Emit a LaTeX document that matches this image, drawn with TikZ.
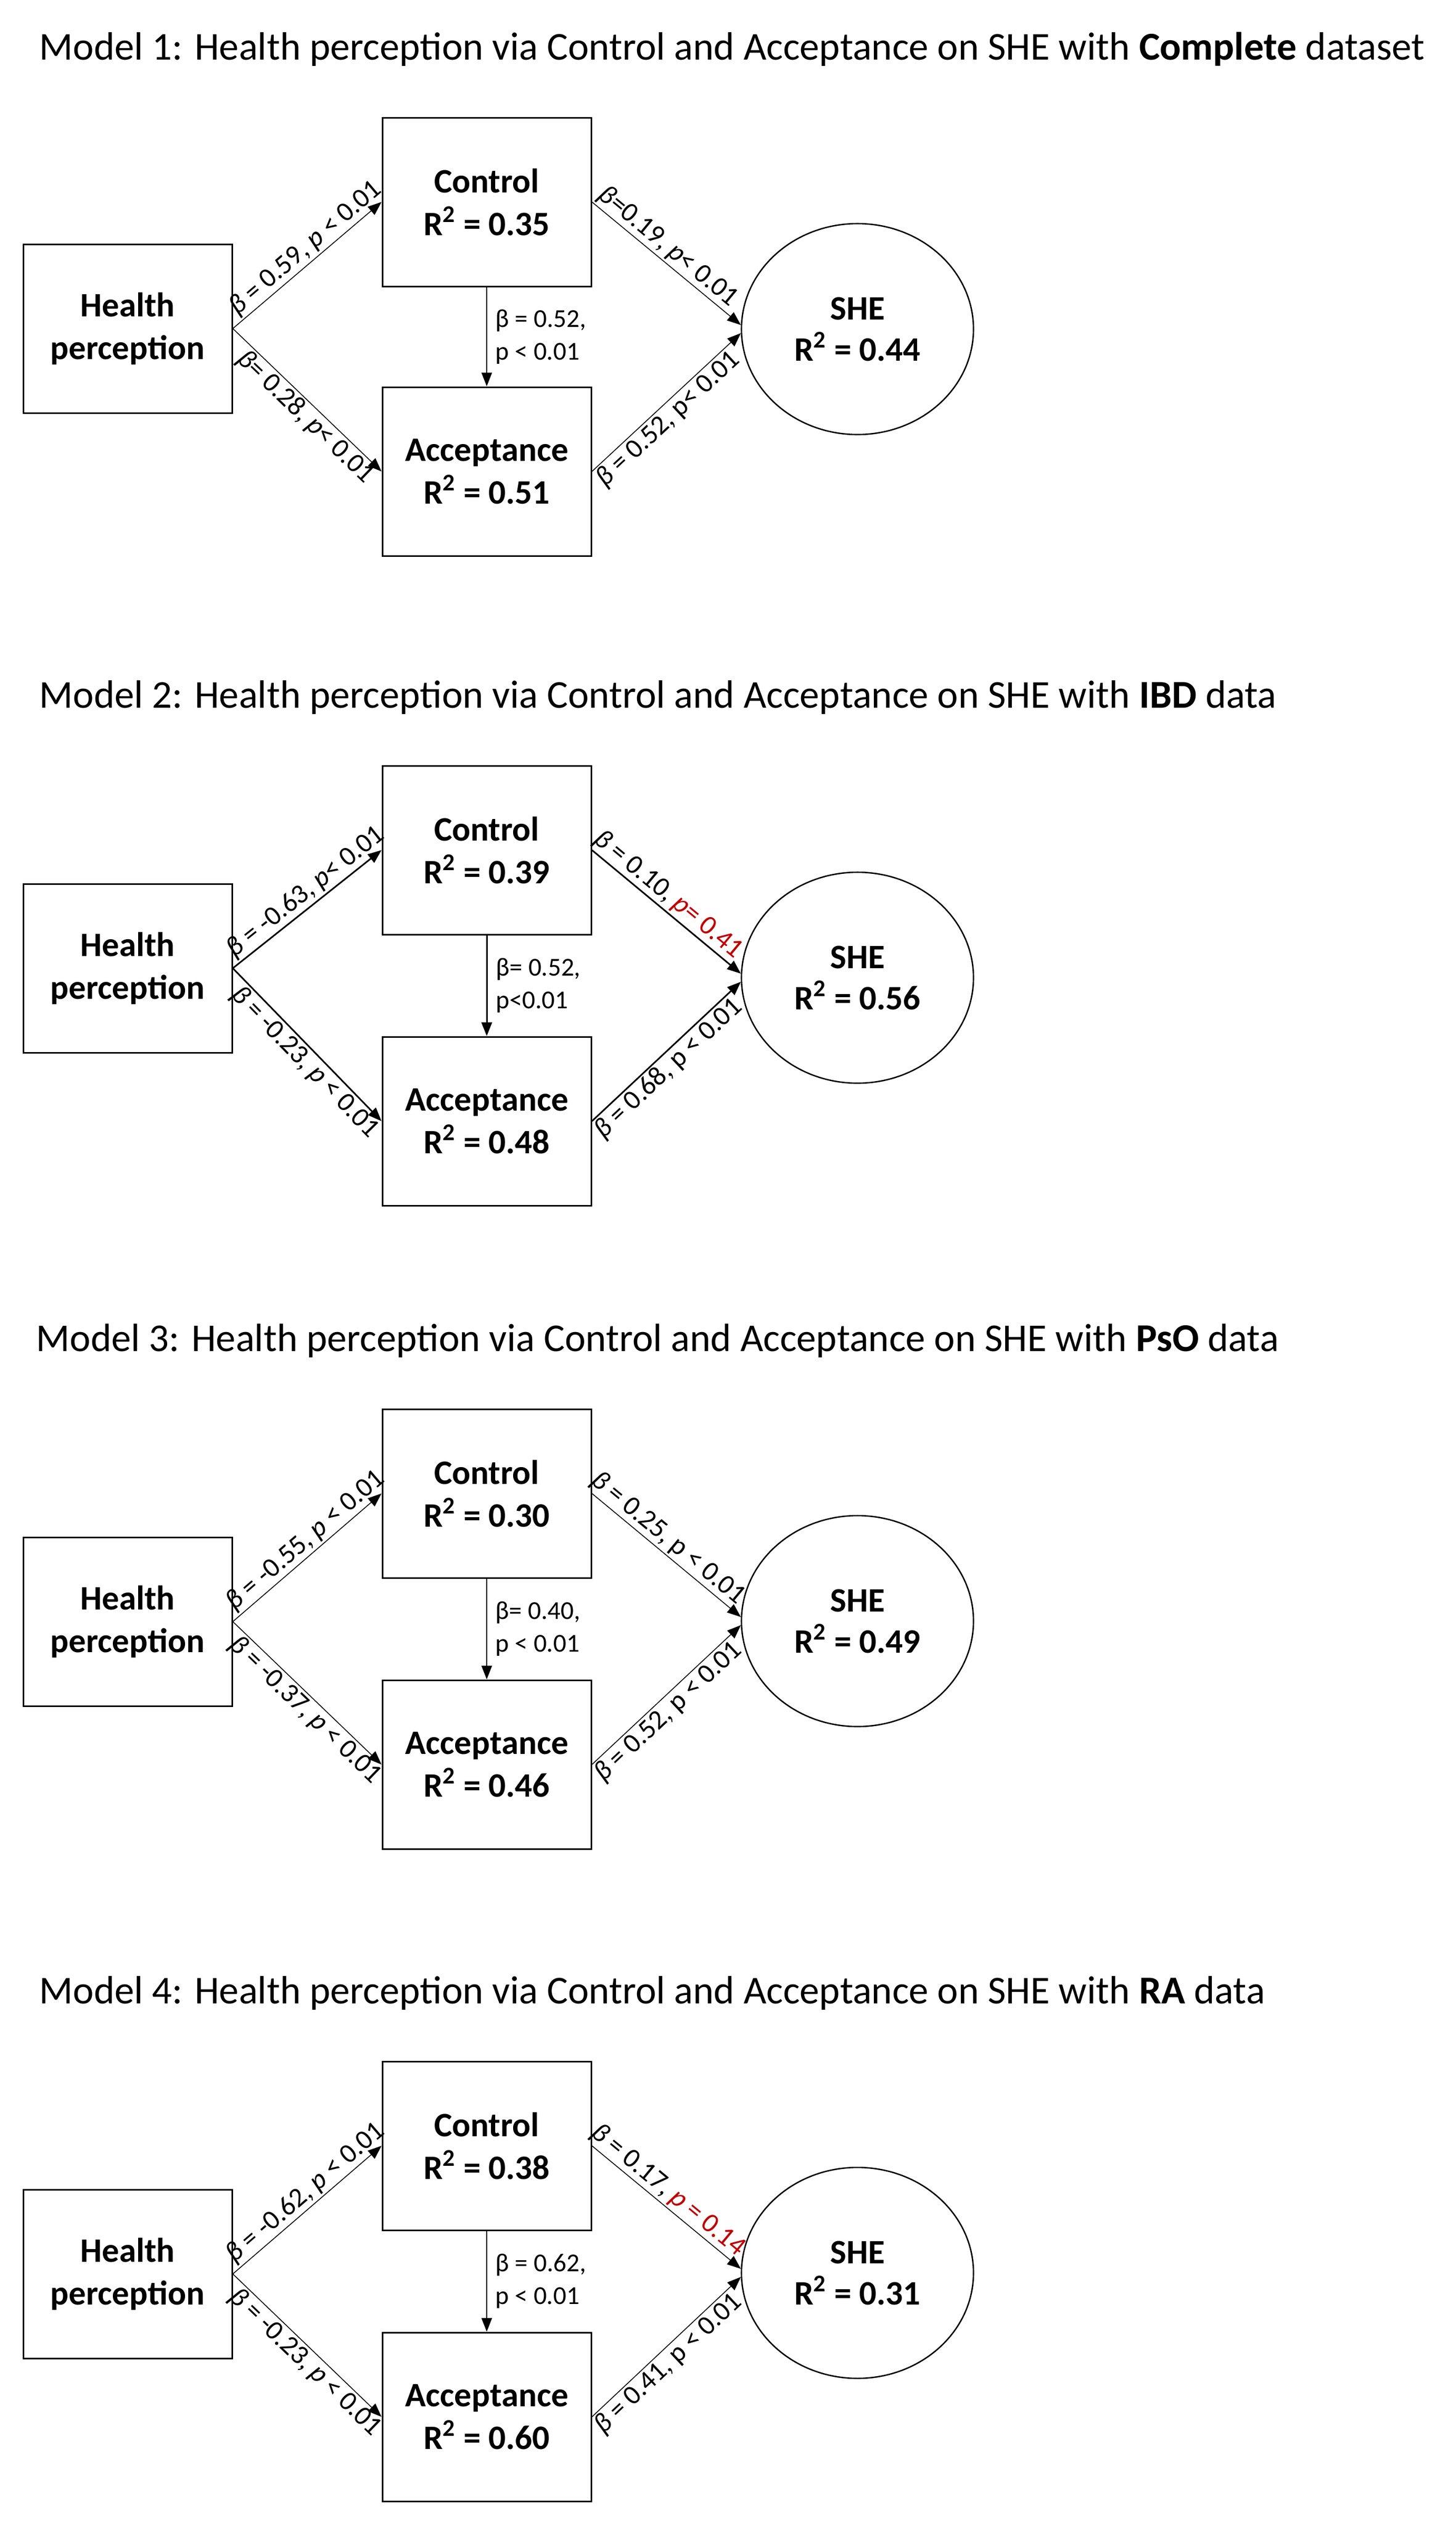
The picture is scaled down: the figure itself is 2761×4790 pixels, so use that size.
\documentclass[tikz,border=0pt]{standalone}
\usepackage{fontspec}
\setmainfont{Carlito}
\usepackage{xcolor}
\usetikzlibrary{arrows.meta,shapes.geometric}
\definecolor{pred}{RGB}{192,0,0}
\newcommand{\ib}{\textit{β}}
\newcommand{\ip}{\textit{p}}

\begin{document}
\begin{tikzpicture}[x=0.25pt,y=-0.25pt]
      \useasboundingbox (0,0) rectangle (2761,4790);
      \tikzset{V/.style = {shape=rectangle, draw, line width=0.75pt, minimum width=99pt, minimum height=80pt, align=center, font=\fontsize{16.25}{20.25}\selectfont\bfseries}}
      \tikzset{S/.style = {shape=ellipse, draw, line width=0.65pt, minimum width=110pt, minimum height=100pt, inner sep=0pt, align=center, font=\fontsize{16.25}{19.5}\selectfont\bfseries}}
      \tikzset{E/.style = {draw, line width=0.4pt, -{Triangle[length=6.5pt,width=5pt]}}}
      \tikzset{EB/.style = {E, line width=0.75pt}}
      \tikzset{L/.style = {font=\fontsize{12.25}{15.5}\selectfont, inner sep=1pt}}
      \tikzset{D/.style = {font=\fontsize{13}{15.5}\selectfont, inner sep=0.8pt, sloped}}
      \tikzset{T/.style = {anchor=base west, inner sep=0pt, font=\fontsize{18.7}{22}\selectfont}}
      % Model 1
      \node[T](t1) at (74,113) {Model 1: Health perception via Control and Acceptance on SHE with \textbf{Complete} dataset};
      \node[V](hp1) at (242,623) {Health\\perception};
      \node[V](ctl1) at (923,383) {Control\\R\textsuperscript{2} = 0.35};
      \node[V](acc1) at (923,894) {Acceptance\\R\textsuperscript{2} = 0.51};
      \node[S](she1) at (1626,624) {SHE\\R\textsuperscript{2} = 0.44};
      \draw[E](hp1.east) to node[D,above,pos=0.55] {\ib{} = 0.59, \ip{} < 0.01} (ctl1.west);
      \draw[E](hp1.east) to node[D,below,pos=0.55] {\ib{}= 0.28, \ip{}< 0.01} (acc1.west);
      \draw[E](ctl1) to node[L,right=3pt,align=left] {β = 0.52,\\p < 0.01} (acc1);
      \draw[E](ctl1.east) to node[D,above,pos=0.45] {\ib{}=0.19, \ip{}< 0.01} (she1.178);
      \draw[E](acc1.east) to node[D,below,pos=0.45] {\ib{} = 0.52, p< 0.01} (she1.182);
      % Model 2
      \node[T](t2) at (74,1342) {Model 2: Health perception via Control and Acceptance on SHE with \textbf{IBD} data};
      \node[V](hp2) at (242,1836) {Health\\perception};
      \node[V](ctl2) at (923,1612) {Control\\R\textsuperscript{2} = 0.39};
      \node[V](acc2) at (923,2126) {Acceptance\\R\textsuperscript{2} = 0.48};
      \node[S](she2) at (1626,1854) {SHE\\R\textsuperscript{2} = 0.56};
      \draw[EB](hp2.east) to node[D,above,pos=0.55] {\ib{} = -0.63, \ip{}< 0.01} (ctl2.west);
      \draw[EB](hp2.east) to node[D,below,pos=0.55] {\ib{} = -0.23, \ip{} < 0.01} (acc2.west);
      \draw[EB](ctl2) to node[L,right=3pt,align=left] {β= 0.52,\\p<0.01} (acc2);
      \draw[EB](ctl2.east) to node[D,above,pos=0.45] {\ib{} = 0.10, \textcolor{pred}{\ip{}= 0.41}} (she2.178);
      \draw[EB](acc2.east) to node[D,below,pos=0.45] {\ib{} = 0.68, p < 0.01} (she2.182);
      % Model 3
      \node[T](t3) at (68,2562) {Model 3: Health perception via Control and Acceptance on SHE with \textbf{PsO} data};
      \node[V](hp3) at (242,3075) {Health\\perception};
      \node[V](ctl3) at (923,2832) {Control\\R\textsuperscript{2} = 0.30};
      \node[V](acc3) at (923,3346) {Acceptance\\R\textsuperscript{2} = 0.46};
      \node[S](she3) at (1626,3074) {SHE\\R\textsuperscript{2} = 0.49};
      \draw[E](hp3.east) to node[D,above,pos=0.55] {\ib{} = -0.55, \ip{} < 0.01} (ctl3.west);
      \draw[E](hp3.east) to node[D,below,pos=0.55] {\ib{} = -0.37, \ip{} < 0.01} (acc3.west);
      \draw[E](ctl3) to node[L,right=3pt,align=left] {β= 0.40,\\p < 0.01} (acc3);
      \draw[E](ctl3.east) to node[D,above,pos=0.45] {\ib{} = 0.25, p < 0.01} (she3.178);
      \draw[E](acc3.east) to node[D,below,pos=0.45] {\ib{} = 0.52, p < 0.01} (she3.182);
      % Model 4
      \node[T](t4) at (74,3799) {Model 4: Health perception via Control and Acceptance on SHE with \textbf{RA} data};
      \node[V](hp4) at (242,4312) {Health\\perception};
      \node[V](ctl4) at (923,4069) {Control\\R\textsuperscript{2} = 0.38};
      \node[V](acc4) at (923,4583) {Acceptance\\R\textsuperscript{2} = 0.60};
      \node[S](she4) at (1626,4310) {SHE\\R\textsuperscript{2} = 0.31};
      \draw[E](hp4.east) to node[D,above,pos=0.55] {\ib{} = -0.62, \ip{} < 0.01} (ctl4.west);
      \draw[E](hp4.east) to node[D,below,pos=0.55] {\ib{} = -0.23, \ip{} < 0.01} (acc4.west);
      \draw[E](ctl4) to node[L,right=3pt,align=left] {β = 0.62,\\p < 0.01} (acc4);
      \draw[E](ctl4.east) to node[D,above,pos=0.45] {\ib{} = 0.17, \textcolor{pred}{\ip{} = 0.14}} (she4.178);
      \draw[E](acc4.east) to node[D,below,pos=0.45] {\ib{} = 0.41, p < 0.01} (she4.182);
    \end{tikzpicture}
\end{document}
